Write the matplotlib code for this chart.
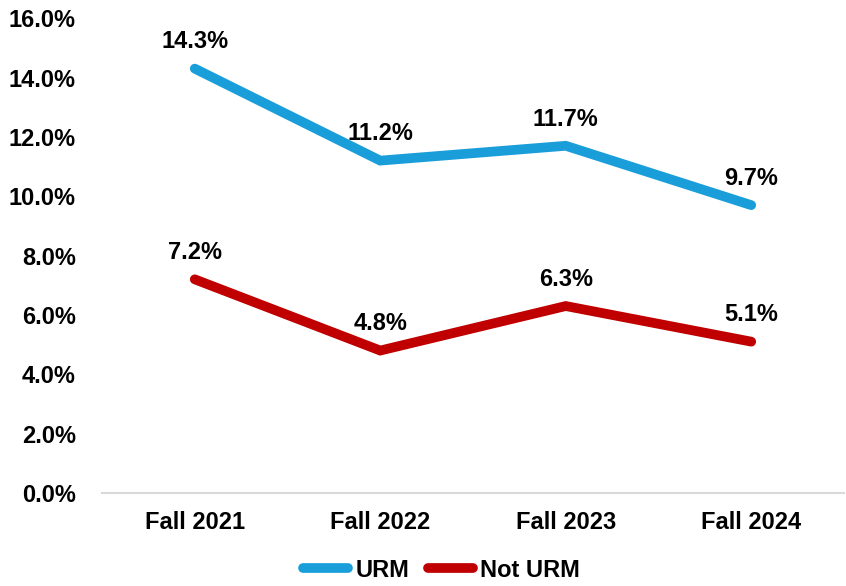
import matplotlib.pyplot as plt
from matplotlib.ticker import PercentFormatter

CATEGORIES = ["Fall 2021", "Fall 2022", "Fall 2023", "Fall 2024"]
URM = [14.3, 11.2, 11.7, 9.7]
NOT_URM = [7.2, 4.8, 6.3, 5.1]
Y_TICKS = [0, 2, 4, 6, 8, 10, 12, 14, 16]

BLUE = "#1a9ed9"
RED = "#c00000"


def main():
    plt.rcParams["font.family"] = ["Liberation Sans", "DejaVu Sans"]
    plt.rcParams["font.weight"] = "bold"

    fig = plt.figure(figsize=(8.46, 5.86), dpi=100)
    ax = fig.add_axes([0.1206, 0.1587, 0.877, 0.8103])
    x = range(len(CATEGORIES))

    for values, color, name in [(URM, BLUE, "URM"), (NOT_URM, RED, "Not URM")]:
        ax.plot(x, values, color=color, lw=7, solid_capstyle="round",
                solid_joinstyle="miter", label=name)
        for xi, v in zip(x, values):
            ax.annotate(f"{v:.1f}%", (xi, v), xytext=(0, 11), textcoords="offset points",
                        ha="center", va="bottom", fontsize=17, fontweight="bold")

    ax.set_xlim(-0.5, len(CATEGORIES) - 0.5)
    ax.set_ylim(0, 16)
    ax.set_yticks(Y_TICKS)
    ax.yaxis.set_major_formatter(PercentFormatter(decimals=1))
    ax.set_xticks(list(x))
    ax.set_xticklabels(CATEGORIES)
    ax.tick_params(axis="both", length=0, labelsize=17)
    ax.tick_params(axis="y", pad=19)
    ax.tick_params(axis="x", pad=13)
    for side in ["top", "right", "left"]:
        ax.spines[side].set_visible(False)
    ax.spines["bottom"].set_color("#d9d9d9")
    ax.spines["bottom"].set_linewidth(1.5)

    fig.legend(loc="center", bbox_to_anchor=(0.522, 0.027), ncol=2, frameon=False,
               fontsize=17, handlelength=1.9, handletextpad=0.3, columnspacing=0.8)

    fig.savefig("out.png", dpi=100)


if __name__ == "__main__":
    main()
